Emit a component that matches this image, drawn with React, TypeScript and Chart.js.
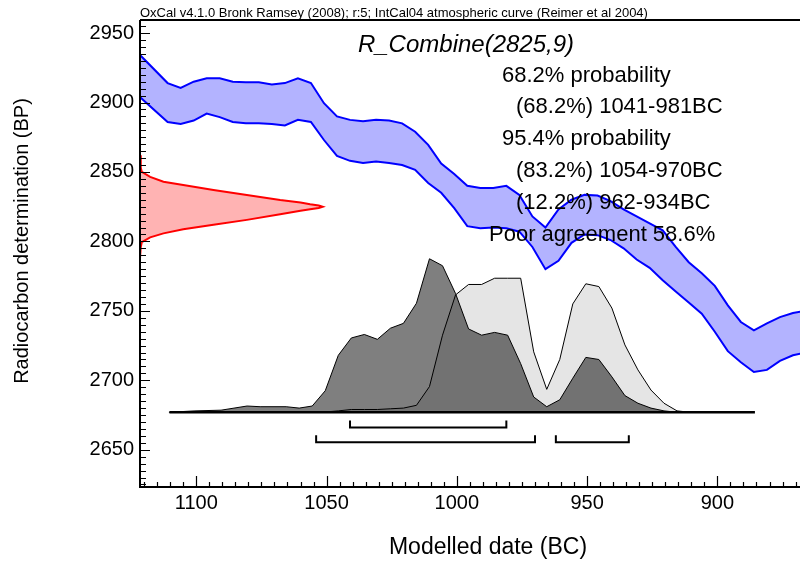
import { useEffect, useRef } from "react";
import { Chart, registerables } from "chart.js";

Chart.register(...registerables);

const FONT = "'Liberation Sans', Arial, Helvetica, sans-serif";

// ---- axis ticks ----
const xTickLabels = [1100, 1050, 1000, 950, 900];
const yTickLabels = [2650, 2700, 2750, 2800, 2850, 2900, 2950];

// ---- IntCal04 calibration curve band (years BC, BP) ----
const bandYears = [
  1122, 1111, 1106, 1101, 1096, 1091, 1086, 1081, 1076, 1071, 1066, 1061, 1056,
  1051, 1046, 1041, 1036, 1031, 1026, 1021, 1016, 1011, 1006, 1001, 996, 991,
  986, 981, 976, 971, 966, 961, 956, 951, 946, 941, 936, 931, 926, 921, 916,
  911, 906, 901, 896, 891, 886, 881, 876, 871, 866,
];
const bandUpper = [
  2935, 2914, 2910.5, 2915, 2917.5, 2917.5, 2915, 2914.5, 2914.5, 2913, 2914,
  2917.5, 2914, 2899.5, 2890, 2887.5, 2886.5, 2887.5, 2887, 2885, 2879, 2869.5,
  2856, 2848.5, 2840, 2838.5, 2838.5, 2840, 2833.5, 2818, 2810, 2823, 2830,
  2833.5, 2833, 2829, 2823, 2818, 2813, 2808, 2796, 2785, 2777, 2768, 2754,
  2742, 2736, 2741, 2745.5, 2748.5, 2750,
];
const bandLower = [
  2904.5, 2886, 2884.5, 2887, 2892, 2889.5, 2886, 2885, 2885, 2884.5, 2883.5,
  2887.5, 2886, 2873, 2861.5, 2858, 2856.5, 2857.5, 2856.5, 2855, 2851.5, 2842,
  2835, 2824, 2811, 2809.5, 2810, 2809.5, 2807, 2796, 2780, 2786, 2799, 2805,
  2804.5, 2801, 2795, 2787, 2781, 2772, 2764, 2756, 2748, 2735, 2721, 2713,
  2706, 2707.5, 2714, 2718, 2720,
];

// ---- radiocarbon determination R_Combine(2825,9) (profile drawn against BP axis) ----
const redYears = [
  1121.6, 1121.3, 1120.9, 1117.7, 1112.6, 1105, 1093.4, 1080.6, 1067.8, 1060,
  1056.3, 1053, 1051.5, 1053, 1056.3, 1060, 1067.8, 1080.6, 1093.4, 1105, 1112.6,
  1117.7, 1120.9, 1121.3, 1121.6,
];
const redValues = [
  2862, 2853, 2850, 2846.5, 2843, 2840.6, 2837, 2833.4, 2829.8, 2828, 2826.8,
  2825.9, 2825, 2824.1, 2823.2, 2822, 2819.5, 2815.5, 2812, 2808.7, 2805.8,
  2802.9, 2799.5, 2796, 2788,
];

// ---- calibrated likelihood (light) ----
const likeYears = [
  1060.5, 1050.5, 1045.5, 1040.5, 1035.5, 1030.5, 1025.5, 1020.5, 1015.5, 1010.5,
  1005.5, 1000.5, 995.5, 990.5, 985.5, 980.5, 975.5, 970.5, 965.5, 960.5, 955.5,
  950.5, 945.5, 940.5, 935.5, 930.5, 925.5, 920.5, 915.5, 910.5,
];
const likeValues = [
  2677, 2677.2, 2678, 2679, 2679, 2679, 2679.5, 2680, 2682, 2695.5, 2732.5,
  2761.5, 2769, 2769, 2773.5, 2773.5, 2773.5, 2720.5, 2693.5, 2715, 2755,
  2769.5, 2767.5, 2752, 2725.5, 2707.5, 2693, 2683.5, 2678, 2677,
];

// ---- modelled posterior (dark) ----
const postYears = [
  1110.5, 1100.5, 1090.5, 1080.5, 1075.5, 1065.5, 1060.5, 1055.5, 1050.5, 1045.5,
  1040.5, 1035.5, 1030.5, 1025.5, 1020.5, 1015.5, 1010.5, 1005.5, 1000.5, 995.5,
  990.5, 985.5, 980.5, 975.5, 970.5, 965.5, 960.5, 955.5, 950.5, 945.5, 940.5,
  935.5, 930.5, 925.5, 920.5, 915.5,
];
const postValues = [
  2677, 2678, 2678.5, 2681.5, 2681, 2681, 2680, 2681.5, 2692.5, 2718, 2730.5,
  2733, 2729.5, 2737.5, 2741, 2755.5, 2787.5, 2782.5, 2762.5, 2737, 2732.5,
  2734.5, 2732.5, 2712, 2688, 2681, 2686, 2701.5, 2716.5, 2715, 2702.5, 2689,
  2683.5, 2680, 2678, 2677,
];

// ---- probability ranges (from, to in BC) ----
const range68 = [[1041, 981]];
const range95 = [
  [1054, 970],
  [962, 934],
];

// ---- texts ----
const captionText =
  "OxCal v4.1.0 Bronk Ramsey (2008); r:5; IntCal04 atmospheric curve (Reimer et al 2004)";
const sampleName = "R_Combine(2825,9)";
const infoLines = [
  "68.2% probability",
  "(68.2%) 1041-981BC",
  "95.4% probability",
  "(83.2%) 1054-970BC",
  "(12.2%) 962-934BC",
  "Poor agreement 58.6%",
];
const xTitle = "Modelled date (BC)";
const yTitle = "Radiocarbon determination (BP)";

// ---- layout constants ----
const X_MIN = 868.3;
const X_MAX = 1121.6;
const Y_MIN = 2623.2;
const Y_MAX = 2959.4;
const BASE = 2677;
const BASE_FROM = 1110.3;
const BASE_TO = 885.6;

const pts = (xs: number[], ys: number[]) => xs.map((x, i) => ({ x, y: ys[i] }));

const bracket = (from: number, to: number, bar: number, top: number) => [
  { x: from, y: top },
  { x: from, y: bar },
  { x: to, y: bar },
  { x: to, y: top },
];

const decorPlugin = {
  id: "decor",
  afterDatasetsDraw(chart: any) {
    const { ctx, chartArea: a, scales } = chart;
    const xs = scales.x;
    const ys = scales.y;
    ctx.save();
    ctx.strokeStyle = "#000";
    ctx.fillStyle = "#000";

    // ticks
    ctx.lineWidth = 1.2;
    ctx.beginPath();
    for (let v = Math.ceil(Y_MIN / 5) * 5; v <= Y_MAX; v += 5) {
      const py = Math.round(ys.getPixelForValue(v)) + 0.5;
      const len = v % 50 === 0 ? 10 : 6;
      ctx.moveTo(a.left, py);
      ctx.lineTo(a.left + len, py);
    }
    for (let v = Math.ceil(X_MIN / 5) * 5; v <= X_MAX; v += 5) {
      const px = Math.round(xs.getPixelForValue(v)) + 0.5;
      const len = v % 50 === 0 ? 11 : 5;
      ctx.moveTo(px, a.bottom);
      ctx.lineTo(px, a.bottom - len);
    }
    ctx.stroke();

    // axis lines
    ctx.lineWidth = 2;
    ctx.beginPath();
    ctx.moveTo(a.left, a.top);
    ctx.lineTo(a.right, a.top);
    ctx.moveTo(a.left, a.top);
    ctx.lineTo(a.left, a.bottom);
    ctx.lineTo(a.right, a.bottom);
    ctx.stroke();

    // caption
    ctx.font = `13px ${FONT}`;
    ctx.textAlign = "left";
    ctx.textBaseline = "alphabetic";
    ctx.fillText(captionText, a.left, a.top - 3);

    // sample name
    ctx.font = `italic 24px ${FONT}`;
    ctx.textAlign = "center";
    ctx.fillText(sampleName, 466, 52);

    // info lines
    ctx.font = `22px ${FONT}`;
    ctx.textAlign = "left";
    const lx = [502, 516, 502, 516, 516, 489];
    const ly = [81.5, 113, 145, 176.5, 209, 240.5];
    infoLines.forEach((t, i) => ctx.fillText(t, lx[i], ly[i]));

    // axis titles
    ctx.textAlign = "center";
    ctx.textBaseline = "middle";
    ctx.font = `23px ${FONT}`;
    ctx.fillText(xTitle, 488, 548);
    ctx.font = `20px ${FONT}`;
    ctx.save();
    ctx.translate(22, 241);
    ctx.rotate(-Math.PI / 2);
    ctx.fillText(yTitle, 0, 0);
    ctx.restore();

    ctx.restore();
  },
};

export default function App() {
  const ref = useRef<HTMLCanvasElement>(null);
  useEffect(() => {
    if (!ref.current) return;
    const black = "#000";
    const datasets: any[] = [];
    range68.forEach(([f, t]) =>
      datasets.push({
        data: bracket(f, t, 2666, 2671),
        borderColor: black,
        borderWidth: 2,
        fill: false,
        order: 0,
      })
    );
    range95.forEach(([f, t]) =>
      datasets.push({
        data: bracket(f, t, 2655.5, 2660.5),
        borderColor: black,
        borderWidth: 2,
        fill: false,
        order: 0,
      })
    );
    datasets.push({
      data: [
        { x: BASE_FROM, y: BASE },
        { x: BASE_TO, y: BASE },
      ],
      borderColor: black,
      borderWidth: 2.5,
      fill: false,
      order: 1,
    });
    datasets.push({
      data: pts(postYears, postValues),
      borderColor: black,
      borderWidth: 1,
      backgroundColor: "rgba(0,0,0,0.5)",
      fill: "shape",
      order: 2,
    });
    datasets.push({
      data: pts(likeYears, likeValues),
      borderColor: black,
      borderWidth: 1,
      backgroundColor: "#e5e5e5",
      fill: "shape",
      order: 3,
    });
    datasets.push({
      data: pts(redYears, redValues),
      borderColor: "#ff0000",
      borderWidth: 2,
      backgroundColor: "#ffb3b3",
      fill: "shape",
      order: 4,
    });
    datasets.push({
      data: pts(bandYears, bandUpper),
      borderColor: "#0000ff",
      borderWidth: 2,
      backgroundColor: "#b3b3ff",
      fill: "+1",
      order: 5,
    });
    datasets.push({
      data: pts(bandYears, bandLower),
      borderColor: "#0000ff",
      borderWidth: 2,
      fill: false,
      order: 6,
    });

    const tickFmt = (v: any) => String(v);

    const chart = new Chart(ref.current, {
      type: "line",
      data: { datasets },
      options: {
        animation: false,
        responsive: false,
        maintainAspectRatio: false,
        events: [],
        layout: { padding: { top: 20, right: 0, left: 0, bottom: 0 } },
        elements: { point: { radius: 0 }, line: { tension: 0 } },
        plugins: {
          legend: { display: false },
          tooltip: { enabled: false },
          title: { display: false },
          filler: { drawTime: "beforeDatasetsDraw" },
        } as any,
        scales: {
          x: {
            type: "linear",
            reverse: true,
            min: X_MIN,
            max: X_MAX,
            afterFit: (s: any) => {
              s.height = 74;
            },
            afterBuildTicks: (s: any) => {
              s.ticks = xTickLabels.map((v) => ({ value: v }));
            },
            grid: { display: false, drawTicks: false },
            border: { display: false },
            ticks: {
              color: "#000",
              font: { family: FONT, size: 20 },
              padding: 4,
              maxRotation: 0,
              autoSkip: false,
              callback: tickFmt,
            },
          },
          y: {
            type: "linear",
            min: Y_MIN,
            max: Y_MAX,
            afterFit: (s: any) => {
              s.width = 140;
            },
            afterBuildTicks: (s: any) => {
              s.ticks = yTickLabels.map((v) => ({ value: v }));
            },
            grid: { display: false, drawTicks: false },
            border: { display: false },
            ticks: {
              color: "#000",
              font: { family: FONT, size: 20 },
              padding: 6,
              autoSkip: false,
              callback: tickFmt,
            },
          },
        },
      },
      plugins: [decorPlugin],
    });
    return () => chart.destroy();
  }, []);
  return (
    <div
      style={{
        position: "absolute",
        left: 0,
        top: 0,
        width: 800,
        height: 561,
        background: "#fff",
      }}
    >
      <canvas
        ref={ref}
        width={800}
        height={561}
        style={{ width: 800, height: 561, display: "block" }}
      />
    </div>
  );
}
